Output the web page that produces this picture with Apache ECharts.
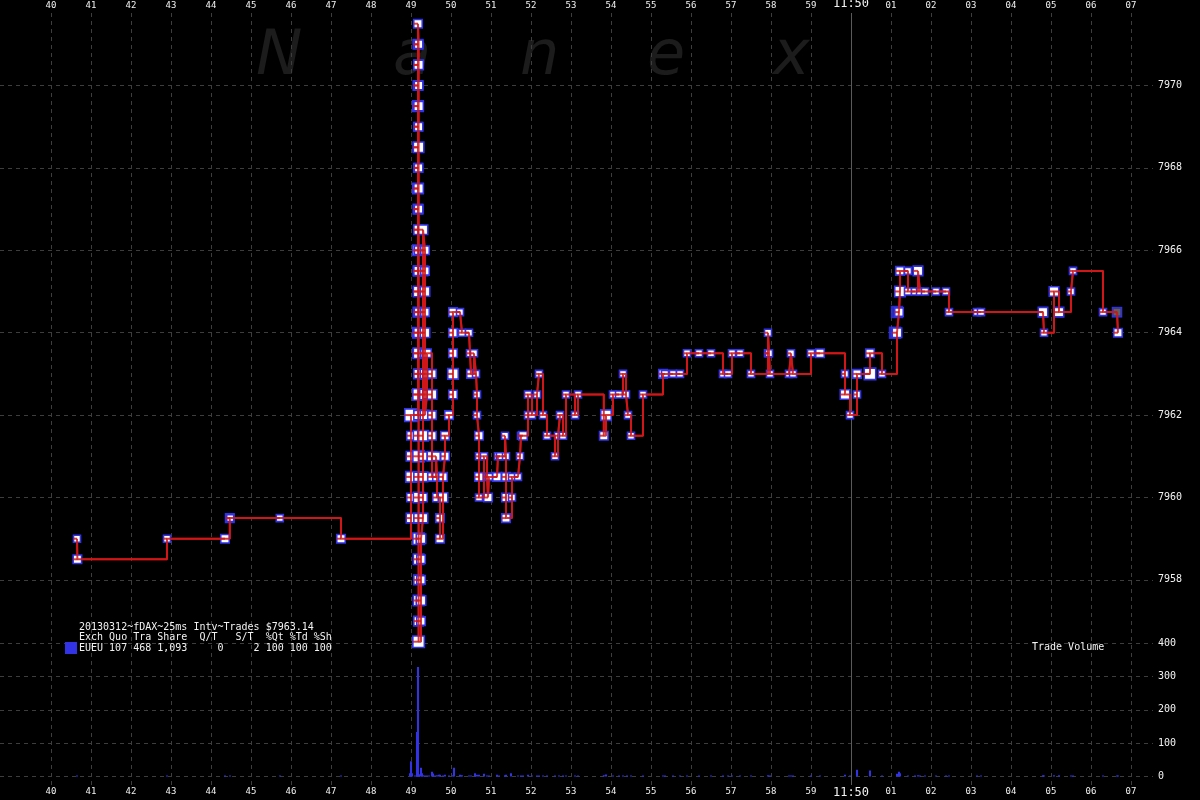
<!DOCTYPE html>
<html><head><meta charset="utf-8">
<script src="https://cdn.jsdelivr.net/npm/echarts@6/dist/echarts.min.js"></script>
<style>html,body{margin:0;padding:0;background:#000}#c{width:1200px;height:800px}</style>
</head><body><div id="c"></div>
<script>
// ---- DATA ----
// time axis: seconds after 11:49:00
const xTickLabels = ['40','41','42','43','44','45','46','47','48','49','50','51','52','53','54','55','56','57','58','59','11:50','01','02','03','04','05','06','07'];
const priceTicks = [7958, 7960, 7962, 7964, 7966, 7968, 7970];
const volumeTicks = [0, 100, 200, 300, 400];
// [time (s after 11:49:00), price, contracts]
const trades = [
[40.65,7959,1],[40.66,7958.5,2],[42.90,7959,1],[44.35,7959,2],[44.47,7959.5,2],[44.48,7959.5,1],[45.72,7959.5,1],[47.25,7959,2],
[49.00,7959.5,3],[49.00,7960,2],[49.00,7960.5,4],[49.00,7961,3],[49.00,7961.5,2],[49.00,7962,6],
[49.175,7962.5,3],[49.175,7963,2],[49.175,7963.5,3],[49.175,7964,4],[49.175,7964.5,3],[49.175,7965,2],[49.175,7965.5,3],[49.175,7966,4],[49.175,7966.5,2],[49.175,7967,3],[49.175,7967.5,4],[49.175,7968,2],[49.175,7968.5,3],[49.175,7969,2],[49.175,7969.5,4],[49.175,7970,3],[49.175,7970.5,2],[49.175,7971,3],[49.175,7971.5,2],
[49.19,7971,2],[49.19,7970.5,3],[49.19,7970,2],[49.19,7969.5,3],[49.19,7969,2],[49.19,7968.5,4],[49.19,7968,2],[49.19,7967.5,3],[49.19,7967,2],[49.19,7966.5,3],[49.19,7966,2],[49.19,7965.5,3],[49.19,7965,4],[49.19,7964.5,2],[49.19,7964,3],[49.19,7963.5,4],[49.19,7963,3],[49.19,7962.5,5],[49.19,7962,3],[49.19,7961.5,4],[49.19,7961,5],[49.19,7960.5,3],[49.19,7960,4],[49.19,7959.5,3],[49.19,7959,5],[49.19,7958.5,4],[49.19,7958,3],[49.19,7957.5,4],[49.19,7957,3],[49.19,7956.5,5],
[49.25,7957,2],[49.25,7957.5,3],[49.25,7958,2],[49.25,7958.5,2],[49.25,7959,3],
[49.30,7959.5,3],[49.30,7960,2],[49.30,7960.5,3],[49.30,7961,2],[49.30,7961.5,4],[49.30,7962,3],[49.30,7962.5,2],[49.30,7963,3],[49.30,7963.5,2],[49.30,7964,3],[49.30,7964.5,2],[49.30,7965,2],[49.30,7965.5,3],[49.30,7966,2],[49.30,7966.5,3],
[49.35,7966,2],[49.35,7965.5,2],[49.35,7965,3],[49.35,7964.5,2],[49.35,7964,3],[49.35,7963.5,2],[49.35,7963,3],[49.35,7962.5,4],[49.35,7962,3],
[49.40,7962.5,2],[49.40,7963,2],[49.40,7963.5,2],
[49.525,7963,2],[49.525,7962.5,3],[49.525,7962,2],[49.525,7961.5,2],[49.525,7961,3],[49.525,7960.5,2],
[49.625,7961,2],[49.65,7960.5,2],[49.65,7960,2],[49.725,7959.5,2],[49.725,7959,2],
[49.80,7960,3],[49.80,7960.5,2],[49.85,7961,2],[49.85,7961.5,2],[49.95,7962,2],
[50.05,7962.5,2],[50.05,7963,4],[50.05,7963.5,2],[50.05,7964,2],[50.05,7964.5,2],
[50.225,7964.5,1],[50.275,7964,1],[50.45,7964,1],[50.475,7963.5,1],[50.50,7963,2],[50.575,7963.5,1],[50.625,7963,1],[50.65,7962.5,1],[50.65,7962,1],
[50.70,7961.5,2],[50.70,7961,1],[50.70,7960.5,2],[50.70,7960,1],
[50.825,7961,1],[50.90,7960.5,1],[50.925,7960,2],[50.95,7960.5,1],[51.15,7960.5,2],[51.175,7961,1],[51.225,7961,1],[51.35,7961.5,1],
[51.375,7961,1],[51.375,7960.5,2],[51.375,7960,2],[51.375,7959.5,2],
[51.525,7960,1],[51.525,7960.5,1],[51.675,7960.5,1],[51.725,7961,1],[51.75,7961.5,1],[51.80,7961.5,2],
[51.925,7962,1],[51.925,7962.5,1],[52.025,7962,1],[52.15,7962.5,1],[52.20,7963,1],[52.30,7962,1],[52.40,7961.5,1],[52.60,7961,1],[52.675,7961.5,1],[52.725,7962,1],[52.80,7961.5,1],[52.875,7962.5,1],[53.10,7962,1],[53.175,7962.5,1],
[53.82,7961.5,2],[53.875,7962,4],[54.05,7962.5,1],[54.20,7962.5,1],[54.30,7963,1],[54.375,7962.5,1],[54.425,7962,1],[54.50,7961.5,1],[54.80,7962.5,1],
[55.30,7963,2],[55.35,7963,1],[55.55,7963,1],[55.725,7963,1],[55.90,7963.5,1],[56.20,7963.5,1],[56.50,7963.5,1],[56.80,7963,1],[56.925,7963,1],[57.025,7963.5,1],[57.225,7963.5,1],[57.50,7963,1],
[57.925,7963.5,1],[57.925,7964,1],[57.95,7963.5,1],[57.975,7963,1],[58.45,7963,1],[58.50,7963.5,1],[58.55,7963,1],[59.00,7963.5,1],[59.225,7963.5,2],
[59.85,7963,1],[59.85,7962.5,3],[59.975,7962,1],[60.15,7962.5,1],[60.15,7963,2],[60.475,7963,5],[60.475,7963.5,2],[60.775,7963,1],
[61.15,7964,3],[61.20,7964.5,2],[61.225,7965,4],[61.225,7965.5,2],[61.425,7965.5,1],[61.425,7965,1],[61.60,7965,1],[61.675,7965.5,3],[61.725,7965,1],[61.85,7965,1],[62.125,7965,1],[62.375,7965,1],[62.45,7964.5,1],[63.15,7964.5,1],[63.25,7964.5,1],
[64.80,7964.5,3],[64.825,7964,1],[65.075,7965,3],[65.20,7964.5,3],[65.50,7965,1],[65.55,7965.5,1],[66.30,7964.5,1],[66.65,7964.5,2],[66.675,7964,2]
];
// sweep-flagged trades (blue boxes) and last quote box
const sweepMarks = [[61.15,7964],[61.20,7964.5]];
const quoteMarks = [[66.65,7964.5]];
// [time, contracts per 25ms interval]
const volumeBuckets = [
[40.65,3],[42.90,1],[44.35,2],[44.475,3],[45.725,1],[47.25,2],
[48.975,10],[49.00,46],[49.025,10],[49.10,3],[49.15,133],[49.175,328],[49.20,7],[49.25,26],[49.275,10],[49.30,4],[49.35,2],[49.40,3],[49.45,2],
[49.525,14],[49.55,9],[49.60,3],[49.65,4],[49.70,5],[49.725,5],[49.80,3],[49.85,5],[49.95,2],[50.05,4],[50.075,26],
[50.225,5],[50.25,3],[50.275,4],[50.45,3],[50.50,2],[50.60,10],[50.65,5],[50.70,5],[50.825,8],[50.90,2],[50.95,2],
[51.15,5],[51.20,3],[51.35,4],[51.375,5],[51.50,10],[51.675,2],[51.75,2],[51.80,3],[51.925,5],[52.025,2],[52.15,2],[52.20,2],
[52.30,2],[52.40,2],[52.60,2],[52.70,2],[52.80,2],[52.875,2],[53.10,2],[53.175,2],[53.82,4],[53.875,6],[54.05,2],[54.20,2],
[54.30,2],[54.40,2],[54.50,2],[54.80,2],[55.30,3],[55.35,2],[55.55,2],[55.725,2],[55.90,2],[56.20,2],[56.50,2],[56.80,2],
[56.925,2],[57.025,2],[57.225,2],[57.50,2],[57.925,4],[57.975,3],[58.45,2],[58.50,2],[58.55,2],[59.00,2],[59.225,3],
[59.85,5],[59.975,2],[60.15,20],[60.475,18],[60.775,3],[61.15,8],[61.20,14],[61.225,10],[61.425,3],[61.60,2],[61.675,4],
[61.725,2],[61.85,2],[62.125,2],[62.375,2],[62.45,2],[63.15,2],[63.25,2],[64.80,4],[64.825,2],[65.075,4],[65.20,4],
[65.50,2],[65.55,2],[66.30,2],[66.65,3],[66.675,3]
];
const infoLines = [
  '20130312~fDAX~25ms Intv~Trades $7963.14',
  'Exch Quo Tra Share  Q/T   S/T  %Qt %Td %Sh',
  'EUEU 107 468 1,093     0     2 100 100 100'
];
const watermark = ['N','a','n','e','x'];

// ---- STYLE ----
const BLUE = '#3232e6', RED = '#d01616', GRID = '#3d3d3d', TXT = '#f2f2f2';
const MONO = 'DejaVu Sans Mono';
const T0 = 38.725, T1 = 67.55;
function boxSize(q){ return q >= 6 ? 12.5 : q >= 5 ? 11.5 : q >= 4 ? 10.5 : q >= 3 ? 9.5 : q >= 2 ? 8.5 : 7; }
function xLabel(v){
  const r = Math.round(v);
  if (Math.abs(v - r) > 1e-6) return '';
  const s = xTickLabels[r - 40];
  if (!s) return '';
  return s === '11:50' ? '{big|11:50}' : s;
}
const xLab = {color: TXT, fontSize: 9, fontFamily: MONO, formatter: xLabel, rich: {big: {fontSize: 12, fontFamily: MONO, color: TXT}}};
const dash = {color: GRID, type: [4, 4], width: 1};

const chart = echarts.init(document.getElementById('c'), null, {renderer: 'canvas', width: 1200, height: 800});
const option = {
  backgroundColor: '#000',
  animation: false,
  textStyle: {fontFamily: MONO},
  grid: [
    {left: 51, right: 47, top: 13, bottom: 15, outerBoundsMode: 'none'},
    {left: 0, right: 47, top: 3.1, height: 659.2, outerBoundsMode: 'none'},
    {left: 0, right: 47, top: 643, height: 133.5, outerBoundsMode: 'none'}
  ],
  xAxis: [
    {gridIndex: 0, type: 'value', position: 'top', min: 40, max: T1, interval: 1,
      axisLine: {show: false}, axisTick: {show: false},
      axisLabel: Object.assign({margin: 3}, xLab),
      splitLine: {show: true, showMaxLine: false, lineStyle: dash}},
    {gridIndex: 0, type: 'value', position: 'bottom', min: 40, max: T1, interval: 1,
      axisLine: {show: false}, axisTick: {show: false},
      axisLabel: Object.assign({margin: 2}, xLab),
      splitLine: {show: false}},
    {gridIndex: 1, type: 'value', min: T0, max: T1, show: false},
    {gridIndex: 2, type: 'value', min: T0, max: T1, show: false}
  ],
  yAxis: [
    {gridIndex: 0, type: 'value', min: 0, max: 1, show: false},
    {gridIndex: 1, type: 'value', position: 'right', min: 7956, max: 7972, interval: 2,
      axisLine: {show: false}, axisTick: {show: false},
      axisLabel: {color: TXT, fontSize: 10, fontFamily: MONO, margin: 5,
        formatter: v => priceTicks.indexOf(v) >= 0 ? String(v) : ''},
      splitLine: {show: true, showMinLine: false, showMaxLine: false, lineStyle: dash}},
    {gridIndex: 2, type: 'value', position: 'right', min: 0, max: 400, interval: 100,
      axisLine: {show: false}, axisTick: {show: false},
      axisLabel: {color: TXT, fontSize: 10, fontFamily: MONO, margin: 5,
        formatter: v => volumeTicks.indexOf(v) >= 0 ? String(v) : ''},
      splitLine: {show: true, lineStyle: dash}}
  ],
  series: [
    {type: 'line', xAxisIndex: 0, yAxisIndex: 0, data: [[60, 0.5]], showSymbol: false,
      lineStyle: {opacity: 0}, silent: true, z: 1,
      markLine: {silent: true, symbol: 'none', label: {show: false},
        lineStyle: {color: '#5a5a5a', type: 'solid', width: 1}, data: [{xAxis: 60}]}},
    {type: 'bar', xAxisIndex: 3, yAxisIndex: 2, data: volumeBuckets, barWidth: 2, barMinHeight: 1,
      itemStyle: {color: BLUE}, z: 2},
    {type: 'line', xAxisIndex: 2, yAxisIndex: 1, data: trades.map(d => [d[0], d[1]]), step: 'end',
      showSymbol: false, lineStyle: {color: RED, width: 2}, z: 3, silent: true},
    {type: 'scatter', xAxisIndex: 2, yAxisIndex: 1, data: sweepMarks, symbol: 'rect', symbolSize: 11,
      symbolOffset: [-2, 0], itemStyle: {color: BLUE, borderColor: BLUE, borderWidth: 1.5}, z: 4},
    {type: 'scatter', xAxisIndex: 2, yAxisIndex: 1, data: trades, symbol: 'rect',
      symbolSize: d => boxSize(d[2]),
      itemStyle: {color: '#ffffff', borderColor: BLUE, borderWidth: 1.6, opacity: 1}, z: 5},
    {type: 'scatter', xAxisIndex: 2, yAxisIndex: 1, data: quoteMarks, symbol: 'rect', symbolSize: 9,
      itemStyle: {color: '#3a3a3a', borderColor: BLUE, borderWidth: 1.6}, z: 6},
    {type: 'scatter', xAxisIndex: 2, yAxisIndex: 1, data: trades, symbol: 'rect', silent: true,
      symbolSize: d => [boxSize(d[2]) / 2, 2], symbolOffset: d => [-boxSize(d[2]) / 4, 0],
      itemStyle: {color: RED}, z: 7},
    {type: 'line', xAxisIndex: 2, yAxisIndex: 1, data: trades.map(d => [d[0], d[1]]), step: 'end',
      showSymbol: false, lineStyle: {color: RED, width: 2, opacity: 0.85}, z: 8, silent: true}
  ],
  graphic: [
    ...watermark.map((ch, i) => ({type: 'text', z: -5, left: [256, 393, 520, 647, 773][i], top: 27,
      style: {text: ch, fill: '#1c1c1c', font: 'italic 62px "DejaVu Sans"'}})),
    ...infoLines.map((s, i) => ({type: 'text', z: 10, left: 79, top: 622 + i * 10.5,
      style: {text: s, fill: TXT, font: '10px "DejaVu Sans Mono"'}})),
    {type: 'rect', z: 10, left: 65, top: 642, shape: {width: 12, height: 12}, style: {fill: BLUE}},
    {type: 'text', z: 10, left: 1032, top: 642, style: {text: 'Trade Volume', fill: TXT, font: '10px "DejaVu Sans Mono"'}}
  ]
};
chart.setOption(option);
</script>
</body></html>
